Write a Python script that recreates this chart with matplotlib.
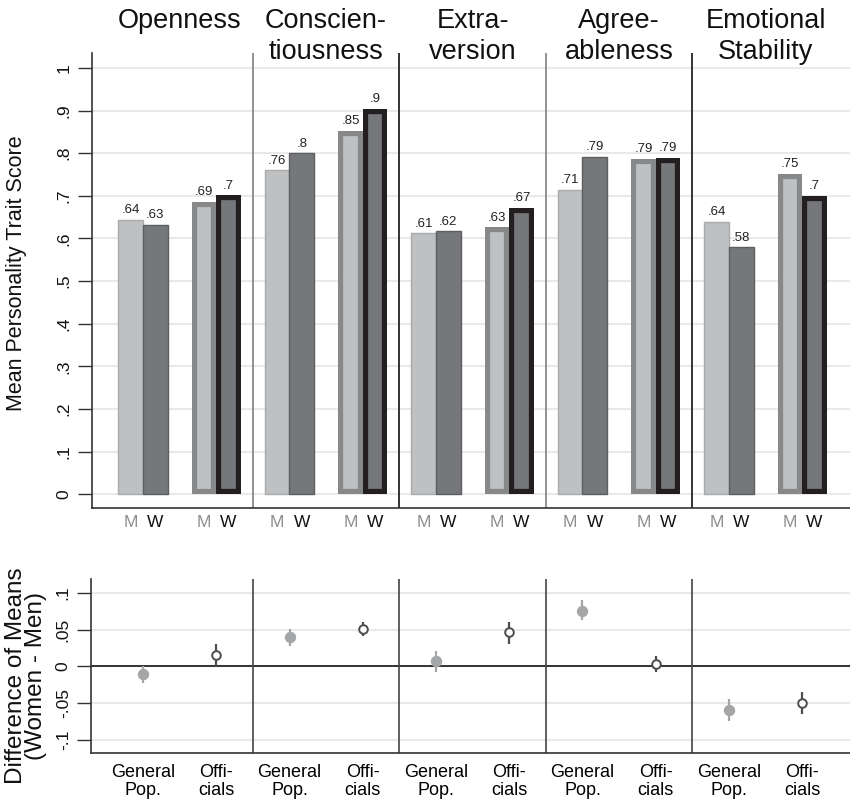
import matplotlib
matplotlib.use("Agg")
import matplotlib.pyplot as plt
import matplotlib.transforms as mtransforms
import numpy as np

plt.rcParams['font.family'] = ['Liberation Sans', 'DejaVu Sans']

# ---------------- data ----------------
traits = ["Openness", "Conscien-\ntiousness", "Extra-\nversion",
          "Agree-\nableness", "Emotional\nStability"]
groups = ["General\nPop.", "Offi-\ncials"]
sex_labels = ["M", "W"]

gen_men = [0.644, 0.760, 0.612, 0.714, 0.639]
gen_women = [0.632, 0.800, 0.617, 0.792, 0.579]
off_men = [0.686, 0.853, 0.627, 0.787, 0.752]
off_women = [0.701, 0.904, 0.672, 0.789, 0.700]

gen_diff = [-0.010, 0.040, 0.007, 0.076, -0.059]
gen_lo = [-0.022, 0.028, -0.008, 0.063, -0.074]
gen_hi = [0.000, 0.051, 0.021, 0.090, -0.045]
off_diff = [0.016, 0.051, 0.047, 0.003, -0.050]
off_lo = [0.001, 0.041, 0.031, -0.008, -0.065]
off_hi = [0.030, 0.061, 0.061, 0.014, -0.035]

top_ticks = [0, .1, .2, .3, .4, .5, .6, .7, .8, .9, 1]
top_ticklabels = ["0", ".1", ".2", ".3", ".4", ".5", ".6", ".7", ".8", ".9", "1"]
bot_ticks = [-.1, -.05, 0, .05, .1]
bot_ticklabels = ["-.1", "-.05", "0", ".05", ".1"]

# ---------------- style ----------------
LIGHT = "#bfc0c2"
LIGHT_EDGE = "#a9aaac"
DARK = "#76777b"
DARK_EDGE = "#5d5e61"
OFF_M_EDGE = "#87888a"
OFF_W_EDGE = "#231f20"
GRID = "#e9e9e9"

fig = plt.figure(figsize=(8.5, 8.0), dpi=100)
W, H = 850, 800
ax1 = fig.add_axes([92 / W, 1 - 508 / H, 758 / W, (508 - 53) / H])
ax2 = fig.add_axes([91 / W, 1 - 753 / H, 759 / W, (753 - 579) / H])

n = len(traits)
xg = np.arange(n) * 2.0
xo = xg + 1.0
bw = 0.335


def fmt(v):
    s = f"{v:.2f}".rstrip("0").rstrip(".")
    return s[1:] if s.startswith("0") else s


ax1.set_xlim(-0.696, 9.652)
ax2.set_xlim(-0.710, 9.652)
for ax in (ax1, ax2):
    for s in ("top", "right"):
        ax.spines[s].set_visible(False)
    for s in ("left", "bottom"):
        ax.spines[s].set_color("#333333")
        ax.spines[s].set_linewidth(1.2)
    ax.set_axisbelow(True)
    ax.yaxis.grid(True, color=GRID, lw=1.5)
    ax.tick_params(axis="x", length=0)
    ax.tick_params(axis="y", length=10, width=1, color="#333333",
                   labelsize=12.5, pad=4.5, labelcolor="#111111")

# ---------------- top panel ----------------
ax1.set_ylim(-0.032, 1.035)
b1 = ax1.bar(xg - bw / 2, gen_men, bw, color=LIGHT, edgecolor=LIGHT_EDGE, lw=1)
b2 = ax1.bar(xg + bw / 2, gen_women, bw, color=DARK, edgecolor=DARK_EDGE, lw=1)
b3 = ax1.bar(xo - bw / 2, off_men, bw, color=LIGHT, edgecolor=OFF_M_EDGE, lw=7.4)
b4 = ax1.bar(xo + bw / 2, off_women, bw, color=DARK, edgecolor=OFF_W_EDGE, lw=7.4)
for bars in (b3, b4):
    for p in bars:
        p.set_clip_path(p)

for xs, vals in ((xg - bw / 2, gen_men), (xg + bw / 2, gen_women),
                 (xo - bw / 2, off_men), (xo + bw / 2, off_women)):
    for x, v in zip(xs, vals):
        ax1.annotate(fmt(v), (x, v), xytext=(0, 2.5), textcoords="offset points",
                     ha="center", va="bottom", fontsize=9.5, color="#222222")

ax1.set_yticks(top_ticks)
ax1.set_yticklabels(top_ticklabels, rotation=90, va="center")

xt = np.sort(np.concatenate([xg - bw / 2, xg + bw / 2, xo - bw / 2, xo + bw / 2]))
ax1.set_xticks(xt)
ax1.set_xticklabels(sex_labels * (2 * n), fontsize=12.5)
for k, lab in enumerate(ax1.get_xticklabels()):
    lab.set_color("#8e8e90" if k % 2 == 0 else "#111111")
ax1.tick_params(axis="x", pad=5)

for i in range(n - 1):
    ax1.axvline(2 * i + 1.5, color="#7f7f7f" if i % 2 == 0 else "#111111", lw=1.2)

tr = mtransforms.blended_transform_factory(ax1.transData, fig.transFigure)
for i, t in enumerate(traits):
    ax1.text(2 * i + 0.5, 1 - 8 / H, t, transform=tr, ha="center", va="top",
             fontsize=19.5, linespacing=1.245, color="#111111")

fig.text(17 / W, 1 - 273 / H, "Mean Personality Trait Score", rotation=90,
         ha="center", va="center", fontsize=15.5, color="#111111")

# ---------------- bottom panel ----------------
ax2.set_ylim(-0.118, 0.119)
ax2.axhline(0, color="#333333", lw=1.4, zorder=1)
for i in range(n - 1):
    ax2.axvline(2 * i + 1.5, color="#444444", lw=1.2)

gen_err = [np.subtract(gen_diff, gen_lo), np.subtract(gen_hi, gen_diff)]
off_err = [np.subtract(off_diff, off_lo), np.subtract(off_hi, off_diff)]
ax2.errorbar(xg, gen_diff, yerr=gen_err, fmt="o", color="#a5a6a8", ms=7.2,
             mfc="#a5a6a8", mec="#a5a6a8", elinewidth=1.6, capsize=0, zorder=3)
ax2.errorbar(xo, off_diff, yerr=off_err, fmt="o", color="#4d4d4f", ms=6.2,
             mfc="white", mec="#4d4d4f", mew=1.4, elinewidth=1.6, capsize=0, zorder=3)

ax2.set_yticks(bot_ticks)
ax2.set_yticklabels(bot_ticklabels, rotation=90, va="center")
ax2.set_xticks(np.sort(np.concatenate([xg, xo])))
ax2.set_xticklabels(groups * n, fontsize=13, linespacing=1.04)
ax2.tick_params(axis="x", pad=8)

fig.text(26 / W, 1 - 676 / H, "Difference of Means\n(Women - Men)", rotation=90,
         ha="center", va="center", fontsize=17.5, linespacing=0.925,
         color="#111111")

fig.savefig("out.png", dpi=100, facecolor="white")
